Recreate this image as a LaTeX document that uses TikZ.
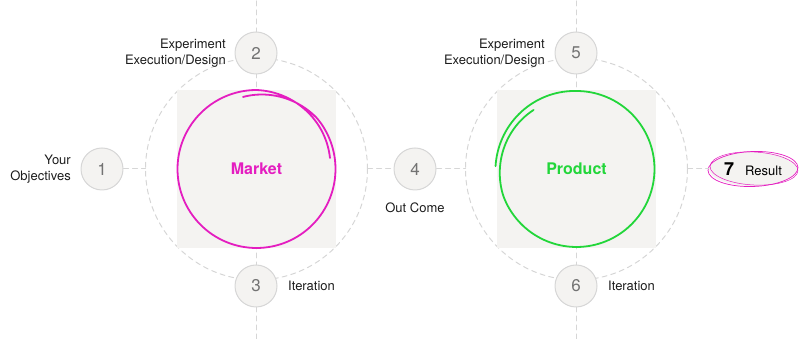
\documentclass[tikz,border=0pt]{standalone}
\usepackage{fontspec}
\setmainfont{TeX Gyre Heros}
\usetikzlibrary{calc,shapes.geometric}

\definecolor{gris}{HTML}{D6D6D6}
\definecolor{papel}{HTML}{F4F3F1}
\definecolor{magenta}{HTML}{E41DC0}
\definecolor{verde}{HTML}{22D63A}
\definecolor{numero}{HTML}{737373}
\definecolor{texto}{HTML}{1C1C1C}

\tikzset{
  guia/.style={draw=gris,line width=1pt,dash pattern=on 5pt off 4pt},
  paso/.style={circle,minimum size=42pt,inner sep=0pt,fill=papel,draw=gris,line width=1pt,
    text=numero,font=\fontsize{17}{18}\selectfont},
  rotulo/.style={text=texto,font=\fontsize{13}{16}\selectfont,inner sep=0pt},
  % radios de los trazos en espiral
  declare function={rm(\t)=79-5.7*max(0,(\t-40)/60.6)-4.7*max(0,(-270-\t)/81.5);
                    rv(\t)=78-5*max(0,(200-\t)/74)+3*max(0,(\t-450)/88);},
}

\begin{document}
\begin{tikzpicture}[x=1pt,y=1pt,line cap=round,line join=round]
  \useasboundingbox (0,0) rectangle (800,339);
  % centros de los dos ciclos
  \coordinate (L) at (256.5,170); \coordinate (R) at (576.5,170);
  % guias discontinuas
  \draw[guia] (L) circle(111); \draw[guia] (R) circle(111);
  \draw[guia] (256,0)--(256,339); \draw[guia] (576,0)--(576,339);
  % fondos cuadrados
  \fill[papel] ($(L)+(-79.5,-79)$) rectangle ($(L)+(79.5,79)$);
  \fill[papel] ($(R)+(-79.5,-79)$) rectangle ($(R)+(79.5,79)$);
  % trazos a mano (una vuelta y un poco mas)
  \draw[magenta,line width=1.8pt] plot[smooth,samples=160,domain=100.6:-351.5]
    ({256.5+rm(\x)*cos(\x)},{170+rm(\x)*sin(\x)});
  \draw[verde,line width=1.8pt] plot[smooth,samples=160,domain=126:538]
    ({576.5+rv(\x)*cos(\x)},{170+rv(\x)*sin(\x)});
  \node[magenta,font=\fontsize{16}{18}\bfseries] (market) at (L) {Market};
  \node[verde,font=\fontsize{16}{18}\bfseries] (product) at (R) {Product};
  % pasos
  \node[paso] (n1) at (102,170) {1};
  \node[paso] (n2) at (256,286) {2};
  \node[paso] (n3) at (256,53) {3};
  \node[paso] (n4) at (415,170) {4};
  \node[paso] (n5) at (576,286) {5};
  \node[paso] (n6) at (576,53) {6};
  \node[ellipse,fill=papel,minimum width=88pt,minimum height=34pt,inner sep=0pt] (n7) at (753,170)
    {\fontsize{18}{18}\bfseries 7\,\, \fontsize{13}{14}\mdseries Result};
  \draw[magenta,line width=0.7pt] (n7) ellipse[x radius=45,y radius=17.5,rotate=2];
  \draw[magenta,line width=0.5pt] ($(n7)+(1,0.5)$) ellipse[x radius=44,y radius=16.5,rotate=-3];
  % enlaces horizontales
  \draw[guia] (n1.east)--($(L)+(180:111)$);
  \draw[guia] ($(L)+(0:111)$)--(n4.west);
  \draw[guia] (n4.east)--($(R)+(180:111)$);
  \draw[guia] ($(R)+(0:111)$)--(n7.west);
  % rotulos
  \node[rotulo,anchor=east,align=right] (obj) at (71,170) {Your\\Objectives};
  \node[rotulo,anchor=east,align=right] (exp1) at (226,286) {Experiment\\Execution/Design};
  \node[rotulo,anchor=west] (it1) at (288,53) {Iteration};
  \node[rotulo] (out) at (415,131) {Out Come};
  \node[rotulo,anchor=east,align=right] (exp2) at (545,286) {Experiment\\Execution/Design};
  \node[rotulo,anchor=west] (it2) at (608,53) {Iteration};
\end{tikzpicture}
\end{document}
